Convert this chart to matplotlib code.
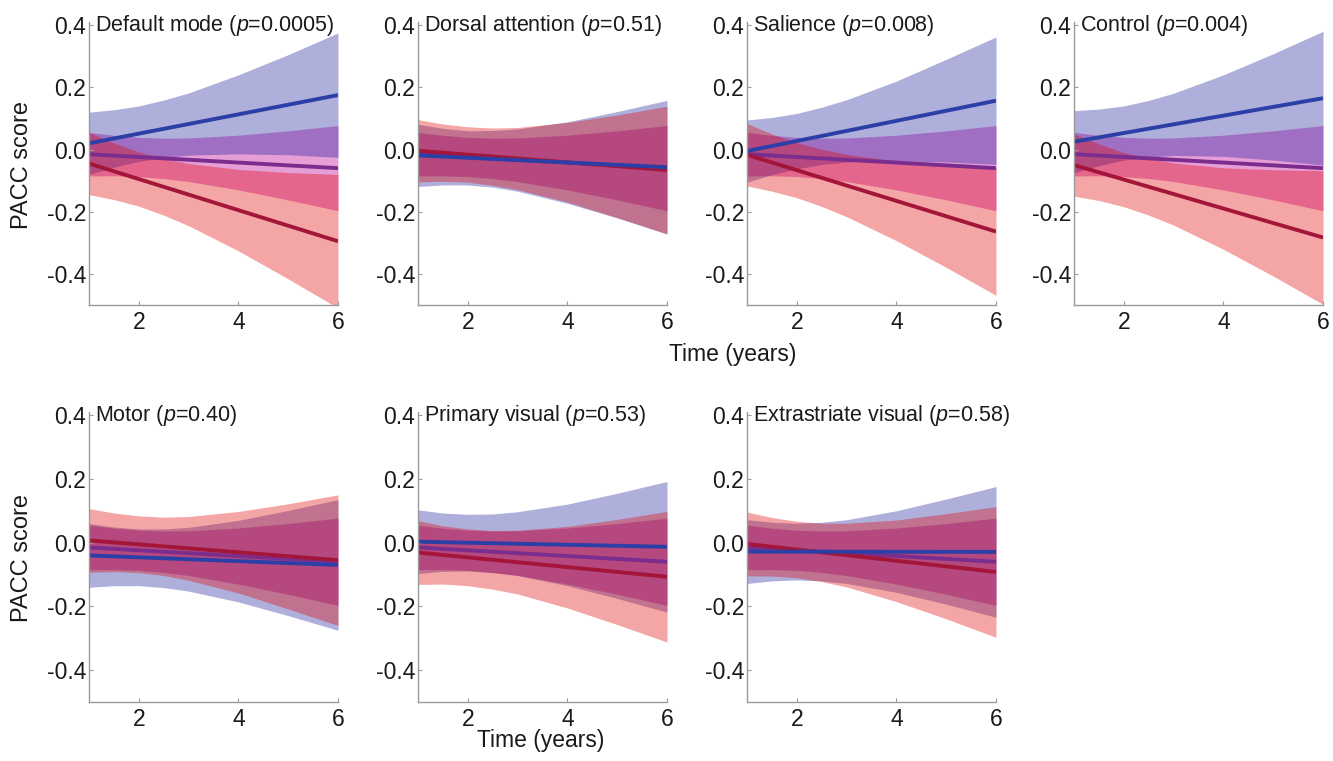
import numpy as np
import matplotlib
matplotlib.use("Agg")
import matplotlib.pyplot as plt

plt.rcParams['font.family'] = ['Liberation Sans', 'DejaVu Sans']
plt.rcParams['mathtext.fontset'] = 'custom'
plt.rcParams['mathtext.rm'] = 'Liberation Sans'
plt.rcParams['mathtext.it'] = 'Liberation Sans:italic'
plt.rcParams['axes.unicode_minus'] = False

# ---- data ----
titles = ["Default mode", "Dorsal attention", "Salience", "Control",
          "Motor", "Primary visual", "Extrastriate visual"]
pvals = ["0.0005", "0.51", "0.008", "0.004", "0.40", "0.53", "0.58"]

years = [1, 1.5, 2, 2.5, 3, 4, 5, 6]   # band sample points
line_x = [1, 6]                         # fitted lines are straight

# group with rising trajectory (blue)
blue_line = [[0.02, 0.175], [-0.019, -0.057], [-0.005, 0.157], [0.025, 0.165],
             [-0.04, -0.07], [0.003, -0.013], [-0.028, -0.029]]
blue_hi = [[0.12, 0.128, 0.14, 0.159, 0.182, 0.24, 0.305, 0.375],
           [0.081, 0.068, 0.06, 0.061, 0.066, 0.089, 0.122, 0.158],
           [0.095, 0.103, 0.116, 0.136, 0.16, 0.22, 0.29, 0.362],
           [0.125, 0.13, 0.14, 0.158, 0.181, 0.24, 0.308, 0.38],
           [0.06, 0.049, 0.043, 0.043, 0.048, 0.07, 0.101, 0.135],
           [0.103, 0.093, 0.089, 0.09, 0.097, 0.121, 0.155, 0.192],
           [0.072, 0.064, 0.061, 0.064, 0.072, 0.1, 0.137, 0.176]]
blue_lo = [[-0.08, -0.057, -0.038, -0.026, -0.018, -0.014, -0.017, -0.025],
           [-0.119, -0.114, -0.114, -0.121, -0.134, -0.173, -0.22, -0.272],
           [-0.105, -0.081, -0.062, -0.048, -0.04, -0.036, -0.04, -0.048],
           [-0.075, -0.052, -0.034, -0.024, -0.019, -0.022, -0.034, -0.05],
           [-0.14, -0.135, -0.135, -0.141, -0.152, -0.186, -0.229, -0.275],
           [-0.097, -0.09, -0.089, -0.094, -0.103, -0.135, -0.175, -0.218],
           [-0.128, -0.12, -0.117, -0.12, -0.128, -0.156, -0.193, -0.234]]

# group with falling trajectory (red)
red_line = [[-0.045, -0.295], [-0.004, -0.066], [-0.017, -0.264], [-0.05, -0.283],
            [0.007, -0.055], [-0.031, -0.107], [-0.004, -0.092]]
red_hi = [[0.055, 0.021, -0.008, -0.029, -0.045, -0.064, -0.074, -0.08],
          [0.096, 0.082, 0.073, 0.069, 0.071, 0.087, 0.111, 0.139],
          [0.083, 0.05, 0.022, 0.001, -0.016, -0.037, -0.05, -0.059],
          [0.05, 0.018, -0.01, -0.029, -0.043, -0.059, -0.065, -0.068],
          [0.107, 0.093, 0.084, 0.08, 0.082, 0.098, 0.122, 0.15],
          [0.069, 0.053, 0.043, 0.038, 0.039, 0.051, 0.073, 0.098],
          [0.096, 0.079, 0.067, 0.061, 0.061, 0.071, 0.091, 0.113]]
red_lo = [[-0.145, -0.161, -0.182, -0.211, -0.245, -0.326, -0.416, -0.51],
          [-0.104, -0.102, -0.105, -0.115, -0.129, -0.169, -0.219, -0.271],
          [-0.117, -0.134, -0.155, -0.183, -0.216, -0.293, -0.379, -0.469],
          [-0.15, -0.164, -0.184, -0.211, -0.243, -0.321, -0.407, -0.498],
          [-0.093, -0.091, -0.094, -0.103, -0.118, -0.158, -0.208, -0.26],
          [-0.131, -0.13, -0.135, -0.146, -0.161, -0.205, -0.257, -0.312],
          [-0.104, -0.105, -0.11, -0.122, -0.139, -0.185, -0.239, -0.297]]

# reference group (purple), same in every panel
mid_line = [-0.015, -0.06]
mid_hi = [0.055, 0.0455, 0.039, 0.0365, 0.037, 0.046, 0.06, 0.077]
mid_lo = [-0.085, -0.0845, -0.087, -0.0935, -0.103, -0.13, -0.162, -0.197]

# ---- styling ----
band_blue = (26/255, 26/255, 155/255)
band_mid = (190/255, 0/255, 150/255)
band_red = (226/255, 0/255, 0/255)
c_blue = '#2c3fa6'
c_red = '#a3163a'
c_mid = '#7b2d8e'
spine_col = '#9a9a9a'
txt_col = '#1a1a1a'

fig = plt.figure(figsize=(13.33, 7.61), dpi=100)
W, H = 1333.0, 761.0
lefts = [89, 418, 747, 1074]
rows = [(22, 305), (412, 702)]
pw = 249

for i, name in enumerate(titles):
    r, c = divmod(i, 4)
    top, bot = rows[r]
    ax = fig.add_axes([lefts[c] / W, 1 - bot / H, pw / W, (bot - top) / H])

    # bands: reference group first, then blue, red on top
    ax.fill_between(years, mid_lo, mid_hi, color=band_mid, alpha=0.38, lw=0)
    ax.fill_between(years, blue_lo[i], blue_hi[i], color=band_blue, alpha=0.35, lw=0)
    ax.fill_between(years, red_lo[i], red_hi[i], color=band_red, alpha=0.35, lw=0)
    ax.plot(line_x, mid_line, color=c_mid, lw=2.8, solid_capstyle='butt')
    ax.plot(line_x, red_line[i], color=c_red, lw=2.8, solid_capstyle='butt')
    ax.plot(line_x, blue_line[i], color=c_blue, lw=2.8, solid_capstyle='butt')

    ax.set_xlim(1, 6)
    ax.set_ylim(-0.5, 0.41)
    ax.set_xticks([2, 4, 6])
    ax.set_yticks([-0.4, -0.2, 0.0, 0.2, 0.4])
    ax.set_yticklabels(["-0.4", "-0.2", "0.0", "0.2", "0.4"])
    for s in ['top', 'right']:
        ax.spines[s].set_visible(False)
    for s in ['left', 'bottom']:
        ax.spines[s].set_color(spine_col)
        ax.spines[s].set_linewidth(1.0)
    ax.tick_params(direction='in', length=3, color=spine_col, labelsize=16.5,
                   labelcolor=txt_col)
    ax.tick_params(axis='y', pad=2)
    ax.tick_params(axis='x', pad=4)
    ax.text(1.12, 0.4, f"{name} ($p$={pvals[i]})", fontsize=15.5,
            va='center', ha='left', color=txt_col)

fig.text(22 / W, 1 - 165 / H, "PACC score", rotation=90, fontsize=17,
         ha='center', va='center', color=txt_col)
fig.text(22 / W, 1 - 558 / H, "PACC score", rotation=90, fontsize=17,
         ha='center', va='center', color=txt_col)
fig.text(733 / W, 1 - 355 / H, "Time (years)", fontsize=16.5,
         ha='center', va='center', color=txt_col)
fig.text(541 / W, 1 - 740 / H, "Time (years)", fontsize=16.5,
         ha='center', va='center', color=txt_col)

fig.savefig("out.png", dpi=100)
